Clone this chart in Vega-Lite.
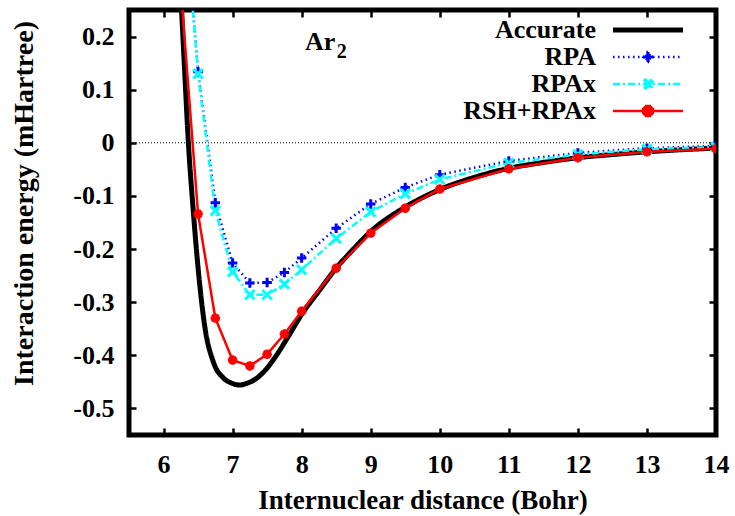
{
  "$schema": "https://vega.github.io/schema/vega-lite/v6.json",
  "width": 587,
  "height": 425,
  "autosize": {"type": "none"},
  "padding": {"left": 129, "top": 10, "right": 19, "bottom": 81},
  "background": "white",
  "config": {"view": {"stroke": "black", "strokeWidth": 5}, "font": "Liberation Serif"},
  "datasets": {
    "curves": [
      {"series": "Accurate", "r": 6.2, "e": 0.42},
      {"series": "Accurate", "r": 6.263, "e": 0.245},
      {"series": "Accurate", "r": 6.3, "e": 0.15},
      {"series": "Accurate", "r": 6.36, "e": 0.0},
      {"series": "Accurate", "r": 6.43, "e": -0.127},
      {"series": "Accurate", "r": 6.5, "e": -0.235},
      {"series": "Accurate", "r": 6.6, "e": -0.348},
      {"series": "Accurate", "r": 6.72, "e": -0.412},
      {"series": "Accurate", "r": 6.87, "e": -0.443},
      {"series": "Accurate", "r": 7.0, "e": -0.453},
      {"series": "Accurate", "r": 7.1, "e": -0.456},
      {"series": "Accurate", "r": 7.2, "e": -0.453},
      {"series": "Accurate", "r": 7.35, "e": -0.443},
      {"series": "Accurate", "r": 7.5, "e": -0.424},
      {"series": "Accurate", "r": 7.64, "e": -0.399},
      {"series": "Accurate", "r": 7.8, "e": -0.366},
      {"series": "Accurate", "r": 8.0, "e": -0.323},
      {"series": "Accurate", "r": 8.25, "e": -0.279},
      {"series": "Accurate", "r": 8.5, "e": -0.236},
      {"series": "Accurate", "r": 8.75, "e": -0.2},
      {"series": "Accurate", "r": 9.0, "e": -0.167},
      {"series": "Accurate", "r": 9.5, "e": -0.121},
      {"series": "Accurate", "r": 10.0, "e": -0.088},
      {"series": "Accurate", "r": 10.5, "e": -0.065},
      {"series": "Accurate", "r": 11.0, "e": -0.048},
      {"series": "Accurate", "r": 11.5, "e": -0.037},
      {"series": "Accurate", "r": 12.0, "e": -0.028},
      {"series": "Accurate", "r": 12.5, "e": -0.022},
      {"series": "Accurate", "r": 13.0, "e": -0.017},
      {"series": "Accurate", "r": 13.5, "e": -0.013},
      {"series": "Accurate", "r": 14.0, "e": -0.01},
      {"series": "RPA", "r": 6.25, "e": 0.53},
      {"series": "RPA", "r": 6.5, "e": 0.134},
      {"series": "RPA", "r": 6.75, "e": -0.113},
      {"series": "RPA", "r": 7.0, "e": -0.226},
      {"series": "RPA", "r": 7.25, "e": -0.264},
      {"series": "RPA", "r": 7.5, "e": -0.263},
      {"series": "RPA", "r": 7.75, "e": -0.244},
      {"series": "RPA", "r": 8.0, "e": -0.217},
      {"series": "RPA", "r": 8.5, "e": -0.161},
      {"series": "RPA", "r": 9.0, "e": -0.115},
      {"series": "RPA", "r": 9.5, "e": -0.084},
      {"series": "RPA", "r": 10.0, "e": -0.06},
      {"series": "RPA", "r": 11.0, "e": -0.034},
      {"series": "RPA", "r": 12.0, "e": -0.019},
      {"series": "RPA", "r": 13.0, "e": -0.01},
      {"series": "RPA", "r": 14.0, "e": -0.006},
      {"series": "RPAx", "r": 6.25, "e": 0.53},
      {"series": "RPAx", "r": 6.5, "e": 0.13},
      {"series": "RPAx", "r": 6.75, "e": -0.128},
      {"series": "RPAx", "r": 7.0, "e": -0.243},
      {"series": "RPAx", "r": 7.25, "e": -0.286},
      {"series": "RPAx", "r": 7.5, "e": -0.286},
      {"series": "RPAx", "r": 7.75, "e": -0.266},
      {"series": "RPAx", "r": 8.0, "e": -0.239},
      {"series": "RPAx", "r": 8.5, "e": -0.18},
      {"series": "RPAx", "r": 9.0, "e": -0.13},
      {"series": "RPAx", "r": 9.5, "e": -0.096},
      {"series": "RPAx", "r": 10.0, "e": -0.069},
      {"series": "RPAx", "r": 11.0, "e": -0.038},
      {"series": "RPAx", "r": 12.0, "e": -0.022},
      {"series": "RPAx", "r": 13.0, "e": -0.012},
      {"series": "RPAx", "r": 14.0, "e": -0.008},
      {"series": "RSH+RPAx", "r": 6.25, "e": 0.29},
      {"series": "RSH+RPAx", "r": 6.5, "e": -0.134},
      {"series": "RSH+RPAx", "r": 6.75, "e": -0.33},
      {"series": "RSH+RPAx", "r": 7.0, "e": -0.409},
      {"series": "RSH+RPAx", "r": 7.25, "e": -0.42},
      {"series": "RSH+RPAx", "r": 7.5, "e": -0.398},
      {"series": "RSH+RPAx", "r": 7.75, "e": -0.36},
      {"series": "RSH+RPAx", "r": 8.0, "e": -0.317},
      {"series": "RSH+RPAx", "r": 8.5, "e": -0.236},
      {"series": "RSH+RPAx", "r": 9.0, "e": -0.17},
      {"series": "RSH+RPAx", "r": 9.5, "e": -0.123},
      {"series": "RSH+RPAx", "r": 10.0, "e": -0.087},
      {"series": "RSH+RPAx", "r": 11.0, "e": -0.049},
      {"series": "RSH+RPAx", "r": 12.0, "e": -0.028},
      {"series": "RSH+RPAx", "r": 13.0, "e": -0.017},
      {"series": "RSH+RPAx", "r": 14.0, "e": -0.011}
    ]
  },
  "layer": [
    {
      "data": {"values": [{}]},
      "mark": {"type": "rule", "strokeDash": [1, 2], "strokeWidth": 1, "color": "black"},
      "encoding": {
        "y": {"datum": 0, "type": "quantitative", "scale": {"domain": [-0.55, 0.25], "nice": false, "zero": false}, "axis": null}
      }
    },
    {
      "data": {"name": "curves"},
      "transform": [{"filter": "datum.series === 'Accurate'"}],
      "mark": {"type": "line", "clip": true, "interpolate": "monotone", "strokeWidth": 5},
      "encoding": {
        "x": {"field": "r", "type": "quantitative", "scale": {"domain": [5.5, 14], "nice": false, "zero": false},
          "axis": {"orient": "bottom", "values": [6, 7, 8, 9, 10, 11, 12, 13, 14], "domain": false, "grid": false,
            "tickSize": -7, "tickWidth": 2.5, "tickColor": "black",
            "labelFont": "Liberation Serif", "labelFontWeight": "bold", "labelFontSize": 26, "labelColor": "black",
            "labelPadding": 44, "labelBaseline": "alphabetic", "labelFlush": false, "labelOverlap": false,
            "title": "Internuclear distance (Bohr)", "titleFont": "Liberation Serif", "titleFontWeight": "bold",
            "titleFontSize": 27, "titleColor": "black", "titleY": 73, "titleBaseline": "alphabetic"}},
        "y": {"field": "e", "type": "quantitative", "scale": {"domain": [-0.55, 0.25], "nice": false, "zero": false},
          "axis": {"orient": "left", "values": [-0.5, -0.4, -0.3, -0.2, -0.1, 0, 0.1, 0.2], "domain": false, "grid": false,
            "tickSize": -7, "tickWidth": 2.5, "tickColor": "black",
            "labelExpr": "datum.value == 0 ? '0' : (datum.value < 0 ? '-' : '') + format(abs(datum.value), '.1f')",
            "labelFont": "Liberation Serif", "labelFontWeight": "bold", "labelFontSize": 26, "labelColor": "black",
            "labelPadding": 22, "labelBaseline": "middle", "labelAlign": "right", "labelFlush": false, "labelOverlap": false,
            "title": "Interaction energy (mHartree)", "titleFont": "Liberation Serif", "titleFontWeight": "bold",
            "titleFontSize": 28, "titleColor": "black", "titleX": -97, "titleY": 193, "titleAngle": 270,
            "titleBaseline": "alphabetic", "titleAlign": "center"}},
        "color": {"field": "series", "type": "nominal",
          "scale": {"domain": ["Accurate", "RPA", "RPAx", "RSH+RPAx"], "range": ["#000000", "#0000ff", "#00ffff", "#ff0000"]},
          "legend": {"title": null, "orient": "none", "legendX": 506, "legendY": 7, "direction": "vertical",
            "labelAlign": "right", "labelOffset": -65, "labelLimit": 0, "padding": 0, "rowPadding": 1,
            "symbolSize": 4900, "labelFont": "Liberation Serif", "labelFontWeight": "bold", "labelFontSize": 26,
            "labelColor": "black", "labelBaseline": "middle",
            "encode": {"symbols": {"update": {
              "shape": {"signal": "datum.value === 'RPA' ? 'M-1,0L1,0M-0.045,-0.14L0.045,-0.14L0.045,-0.045L0.14,-0.045L0.14,0.045L0.045,0.045L0.045,0.14L-0.045,0.14L-0.045,0.045L-0.14,0.045L-0.14,-0.045L-0.045,-0.045Z' : datum.value === 'RPAx' ? 'M-1,0L1,0M0.067,-0.131L0.131,-0.067L0.064,0L0.131,0.067L0.067,0.131L0,0.064L-0.067,0.131L-0.131,0.067L-0.064,0L-0.131,-0.067L-0.067,-0.131L0,-0.064Z' : datum.value === 'RSH+RPAx' ? 'M-1,0L1,0M-0.045,-0.14L0.045,-0.14L0.045,-0.045L0.14,-0.045L0.14,0.045L0.045,0.045L0.045,0.14L-0.045,0.14L-0.045,0.045L-0.14,0.045L-0.14,-0.045L-0.045,-0.045ZM0.067,-0.131L0.131,-0.067L0.064,0L0.131,0.067L0.067,0.131L0,0.064L-0.067,0.131L-0.131,0.067L-0.064,0L-0.131,-0.067L-0.067,-0.131L0,-0.064Z' : 'M-1,0L1,0'"},
              "fill": {"signal": "datum.value === 'RPA' ? '#0000ff' : datum.value === 'RPAx' ? '#00ffff' : datum.value === 'RSH+RPAx' ? '#ff0000' : 'transparent'"},
              "strokeWidth": {"signal": "datum.value === 'Accurate' ? 5 : 2.5"}
            }}}}},
        "strokeDash": {"field": "series", "type": "nominal",
          "scale": {"domain": ["Accurate", "RPA", "RPAx", "RSH+RPAx"], "range": [[1, 0], [1.5, 3.5], [7, 3, 2, 3], [1, 0]]},
          "legend": {"title": null, "orient": "none", "legendX": 506, "legendY": 7, "direction": "vertical",
            "labelAlign": "right", "labelOffset": -65, "labelLimit": 0, "padding": 0, "rowPadding": 1,
            "symbolSize": 4900, "labelFont": "Liberation Serif", "labelFontWeight": "bold", "labelFontSize": 26,
            "labelColor": "black", "labelBaseline": "middle"}}
      }
    },
    {
      "data": {"name": "curves"},
      "transform": [{"filter": "datum.series !== 'Accurate'"}],
      "mark": {"type": "line", "clip": true, "strokeWidth": 2.5},
      "encoding": {
        "x": {"field": "r", "type": "quantitative", "scale": {"domain": [5.5, 14], "nice": false, "zero": false}, "axis": null},
        "y": {"field": "e", "type": "quantitative", "scale": {"domain": [-0.55, 0.25], "nice": false, "zero": false}, "axis": null},
        "color": {"field": "series", "type": "nominal",
          "scale": {"domain": ["Accurate", "RPA", "RPAx", "RSH+RPAx"], "range": ["#000000", "#0000ff", "#00ffff", "#ff0000"]}},
        "strokeDash": {"field": "series", "type": "nominal",
          "scale": {"domain": ["Accurate", "RPA", "RPAx", "RSH+RPAx"], "range": [[1, 0], [1.5, 3.5], [7, 3, 2, 3], [1, 0]]}}
      }
    },
    {
      "data": {"name": "curves"},
      "transform": [{"filter": "datum.series !== 'Accurate'"}],
      "mark": {"type": "point", "clip": true, "filled": false, "strokeWidth": 3, "size": 90, "opacity": 1},
      "encoding": {
        "x": {"field": "r", "type": "quantitative", "scale": {"domain": [5.5, 14], "nice": false, "zero": false},
          "axis": {"orient": "top", "values": [6, 7, 8, 9, 10, 11, 12, 13, 14], "domain": false, "grid": false, "labels": false,
            "tickSize": -7, "tickWidth": 2.5, "tickColor": "black", "title": null}},
        "y": {"field": "e", "type": "quantitative", "scale": {"domain": [-0.55, 0.25], "nice": false, "zero": false},
          "axis": {"orient": "right", "values": [-0.5, -0.4, -0.3, -0.2, -0.1, 0, 0.1, 0.2], "domain": false, "grid": false, "labels": false,
            "tickSize": -7, "tickWidth": 2.5, "tickColor": "black", "title": null}},
        "stroke": {"field": "series", "type": "nominal",
          "scale": {"domain": ["RPA", "RPAx", "RSH+RPAx"], "range": ["#0000ff", "#00ffff", "#ff0000"]}, "legend": null},
        "shape": {"field": "series", "type": "nominal",
          "scale": {"domain": ["RPA", "RPAx", "RSH+RPAx"],
            "range": ["M-1,0L1,0M0,-1L0,1", "M-1,-1L1,1M-1,1L1,-1", "M-1,0L1,0M0,-1L0,1M-0.7,-0.7L0.7,0.7M-0.7,0.7L0.7,-0.7"]},
          "legend": null}
      }
    },
    {
      "data": {"values": [{}]},
      "mark": {"type": "text", "text": "Ar", "align": "left", "baseline": "alphabetic", "font": "Liberation Serif", "fontWeight": "bold", "fontSize": 26, "color": "black"},
      "encoding": {
        "x": {"datum": 8.048, "type": "quantitative", "scale": {"domain": [5.5, 14], "nice": false, "zero": false}, "axis": null},
        "y": {"datum": 0.175, "type": "quantitative", "scale": {"domain": [-0.55, 0.25], "nice": false, "zero": false}, "axis": null}
      }
    },
    {
      "data": {"values": [{}]},
      "mark": {"type": "text", "text": "2", "align": "left", "baseline": "alphabetic", "font": "Liberation Serif", "fontWeight": "bold", "fontSize": 20, "color": "black"},
      "encoding": {
        "x": {"datum": 8.508, "type": "quantitative", "scale": {"domain": [5.5, 14], "nice": false, "zero": false}, "axis": null},
        "y": {"datum": 0.16, "type": "quantitative", "scale": {"domain": [-0.55, 0.25], "nice": false, "zero": false}, "axis": null}
      }
    }
  ],
  "resolve": {"axis": {"x": "independent", "y": "independent"}}
}
